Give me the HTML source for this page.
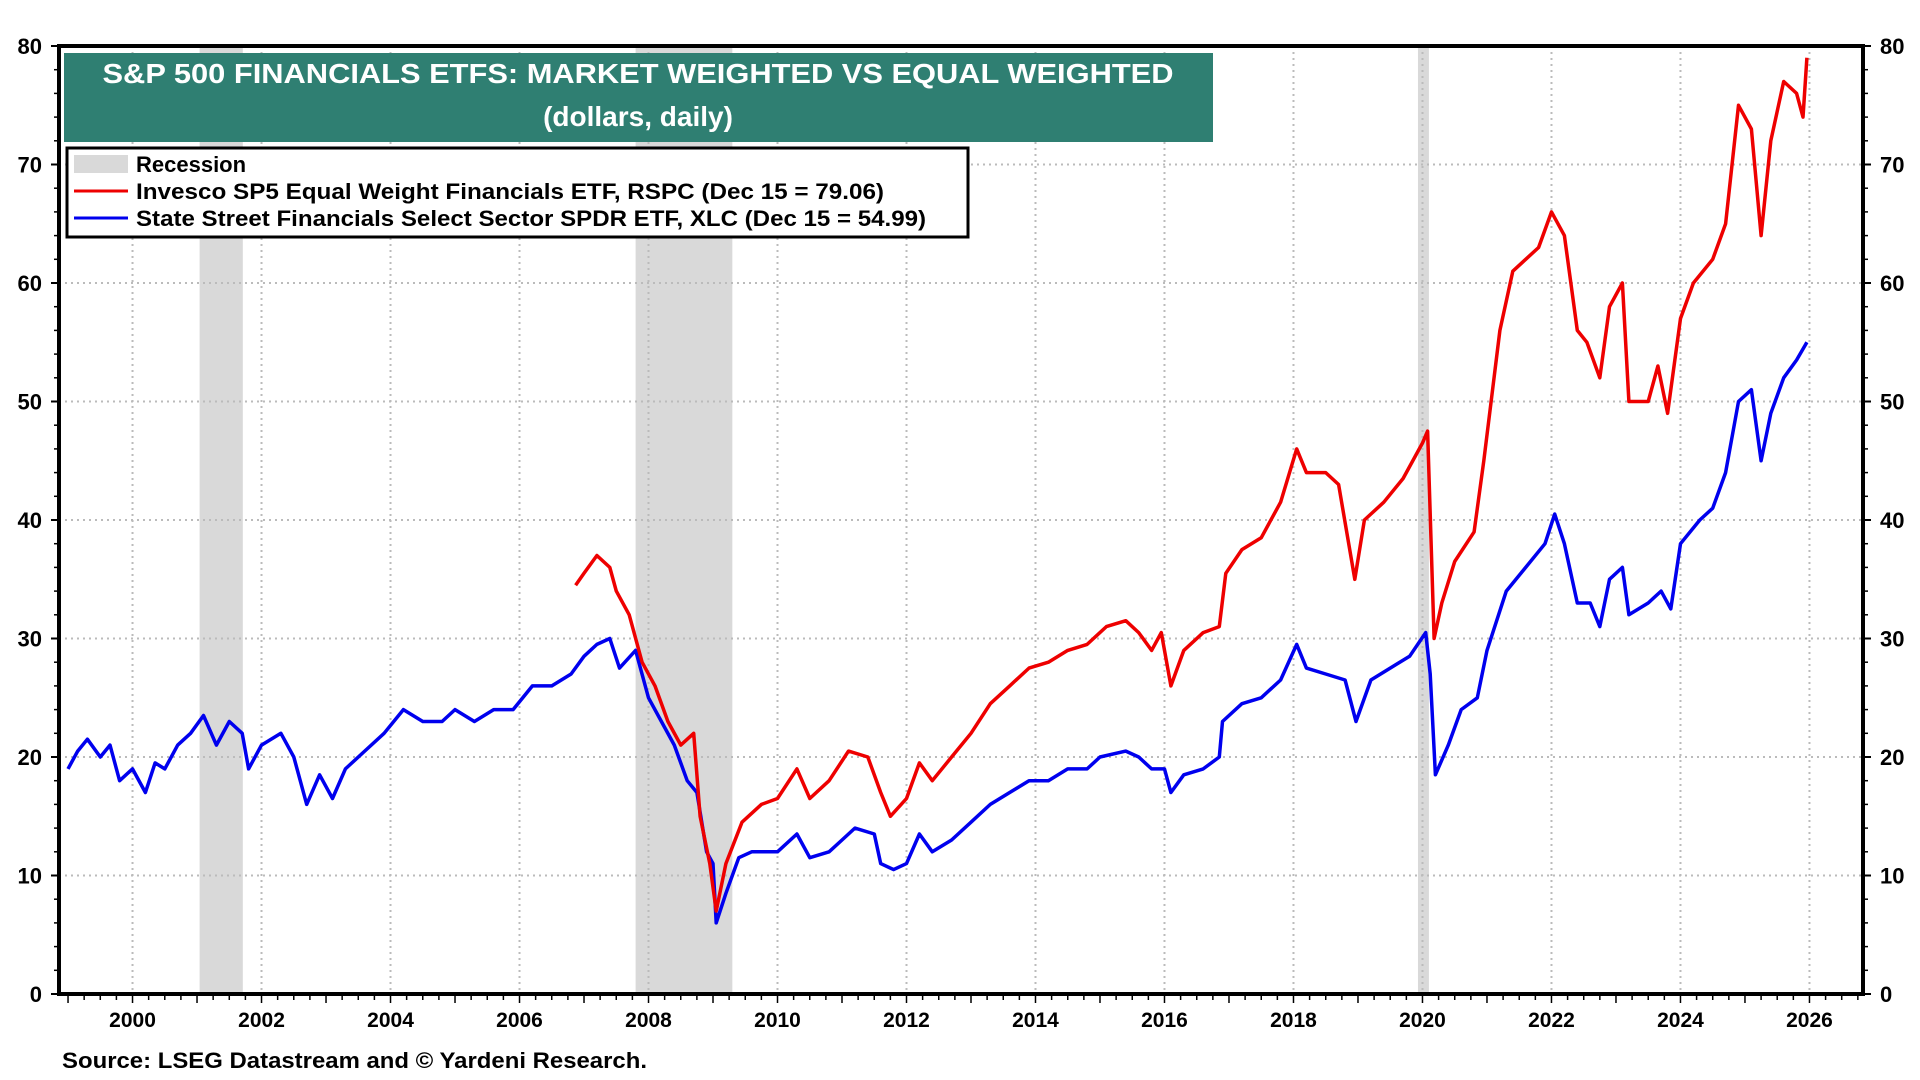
<!DOCTYPE html>
<html><head><meta charset="utf-8"><style>
html,body{margin:0;padding:0;background:#fff;}
svg{display:block;font-family:"Liberation Sans",Arial,sans-serif;font-weight:bold;}
</style></head><body>
<svg id="chart" width="1920" height="1080" viewBox="0 0 1920 1080"></svg>
<script>
const recessions=[[2001.04,2001.71],[2007.8,2009.3],[2019.93,2020.1]];
const yTicks=[0,10,20,30,40,50,60,70,80];
const xTicks=[2000,2002,2004,2006,2008,2010,2012,2014,2016,2018,2020,2022,2024,2026];
const blueYears=[1999.0,1999.15,1999.3,1999.5,1999.65,1999.8,2000.0,2000.2,2000.35,2000.5,2000.7,2000.9,2001.1,2001.3,2001.5,2001.7,2001.8,2002.0,2002.3,2002.5,2002.7,2002.9,2003.1,2003.3,2003.6,2003.9,2004.2,2004.5,2004.8,2005.0,2005.3,2005.6,2005.9,2006.2,2006.5,2006.8,2007.0,2007.2,2007.4,2007.55,2007.8,2008.0,2008.2,2008.4,2008.6,2008.75,2008.9,2009.0,2009.05,2009.2,2009.4,2009.6,2010.0,2010.3,2010.5,2010.8,2011.0,2011.2,2011.5,2011.6,2011.8,2012.0,2012.2,2012.4,2012.7,2013.0,2013.3,2013.6,2013.9,2014.2,2014.5,2014.8,2015.0,2015.4,2015.6,2015.8,2016.0,2016.1,2016.3,2016.6,2016.85,2016.9,2017.2,2017.5,2017.8,2018.05,2018.2,2018.5,2018.8,2018.97,2019.2,2019.5,2019.8,2020.05,2020.12,2020.2,2020.4,2020.6,2020.85,2021.0,2021.3,2021.6,2021.9,2022.05,2022.2,2022.4,2022.6,2022.75,2022.9,2023.1,2023.2,2023.5,2023.7,2023.85,2024.0,2024.3,2024.5,2024.7,2024.9,2025.1,2025.25,2025.4,2025.6,2025.8,2025.96];
const blueValues=[19,20.5,21.5,20,21,18,19,17,19.5,19,21,22,23.5,21,23,22,19,21,22,20,16,18.5,16.5,19,20.5,22,24,23,23,24,23,24,24,26,26,27,28.5,29.5,30,27.5,29,25,23,21,18,17,12,11,6,8.5,11.5,12,12,13.5,11.5,12,13,14,13.5,11,10.5,11,13.5,12,13,14.5,16,17,18,18,19,19,20,20.5,20,19,19,17,18.5,19,20,23,24.5,25,26.5,29.5,27.5,27,26.5,23,26.5,27.5,28.5,30.5,27,18.5,21,24,25,29,34,36,38,40.5,38,33,33,31,35,36,32,33,34,32.5,38,40,41,44,50,51,45,49,52,53.5,55];
const redYears=[2006.87,2007.0,2007.2,2007.4,2007.5,2007.7,2007.9,2008.1,2008.3,2008.5,2008.7,2008.8,2008.95,2009.05,2009.2,2009.45,2009.75,2010.0,2010.3,2010.5,2010.8,2011.1,2011.4,2011.6,2011.75,2012.0,2012.2,2012.4,2012.7,2013.0,2013.3,2013.6,2013.9,2014.2,2014.5,2014.8,2015.1,2015.4,2015.6,2015.8,2015.95,2016.1,2016.3,2016.6,2016.85,2016.95,2017.2,2017.5,2017.8,2018.05,2018.2,2018.5,2018.7,2018.95,2019.1,2019.4,2019.7,2020.0,2020.08,2020.18,2020.3,2020.5,2020.8,2020.95,2021.2,2021.4,2021.6,2021.8,2022.0,2022.2,2022.4,2022.55,2022.75,2022.9,2023.1,2023.2,2023.5,2023.65,2023.8,2024.0,2024.2,2024.5,2024.7,2024.9,2025.1,2025.25,2025.4,2025.6,2025.8,2025.9,2025.96];
const redValues=[34.5,35.5,37,36,34,32,28,26,23,21,22,15,11,7,11,14.5,16,16.5,19,16.5,18,20.5,20,17,15,16.5,19.5,18,20,22,24.5,26,27.5,28,29,29.5,31,31.5,30.5,29,30.5,26,29,30.5,31,35.5,37.5,38.5,41.5,46,44,44,43,35,40,41.5,43.5,46.5,47.5,30,33,36.5,39,45,56,61,62,63,66,64,56,55,52,58,60,50,50,53,49,57,60,62,65,75,73,64,72,77,76,74,79];

const L=59,R=1863,T=46,B=994;
const x0=1998.86,x1=2026.83;
const X=v=>L+(v-x0)/(x1-x0)*(R-L);
const Y=v=>B-v/80*(B-T);
const svg=document.getElementById('chart');
const NS='http://www.w3.org/2000/svg';
function mk(tag,attrs,parent){const e=document.createElementNS(NS,tag);for(const k in attrs)e.setAttribute(k,attrs[k]);(parent||svg).appendChild(e);return e;}

recessions.forEach(r=>{
  const e=mk('rect',{x:X(r[0]),y:T,width:X(r[1])-X(r[0]),height:B-T,fill:'#d9d9d9'});
  
  
});
yTicks.forEach(v=>{
  if(v>0&&v<80){const g=mk('line',{x1:L,x2:R,y1:Y(v),y2:Y(v),stroke:'#bbb','stroke-width':2,'stroke-dasharray':'2,4'});
  }
  const tl=mk('text',{x:42,y:Y(v)+8,'text-anchor':'end','font-size':22,fill:'#000'});tl.textContent=v;
  
  const tr=mk('text',{x:1880,y:Y(v)+8,'text-anchor':'start','font-size':22,fill:'#000'});tr.textContent=v;
  
  mk('line',{x1:L-8,x2:L,y1:Y(v),y2:Y(v),stroke:'#000','stroke-width':2});
  mk('line',{x1:R,x2:R+8,y1:Y(v),y2:Y(v),stroke:'#000','stroke-width':2});
});
for(let v=2;v<80;v+=2){if(v%10){mk('line',{x1:L-5,x2:L,y1:Y(v),y2:Y(v),stroke:'#000','stroke-width':1.5});mk('line',{x1:R,x2:R+5,y1:Y(v),y2:Y(v),stroke:'#000','stroke-width':1.5});}}
xTicks.forEach(v=>{
  const g=mk('line',{x1:X(v),x2:X(v),y1:T,y2:B,stroke:'#bbb','stroke-width':2,'stroke-dasharray':'2,4'});
  
  const t=mk('text',{x:X(v),y:1027,'text-anchor':'middle','font-size':21,fill:'#000'});t.textContent=v;
  
});
for(let v=1999;v<=2026.75;v+=0.25){mk('line',{x1:X(v),x2:X(v),y1:B,y2:B+(Number.isInteger(v)?9:6),stroke:'#000','stroke-width':1.5});}

function series(xs,ys,color,name){
  const d=xs.map((v,i)=>(i?'L':'M')+X(v).toFixed(1)+','+Y(ys[i]).toFixed(1)).join(' ');
  const p=mk('path',{d:d,fill:'none',stroke:color,'stroke-width':3.5,'stroke-linejoin':'round'});
  
  
}
series(blueYears,blueValues,'#0000ee','xlf-line');
series(redYears,redValues,'#ee0000','rspc-line');

const frame=mk('rect',{x:L,y:T,width:R-L,height:B-T,fill:'none',stroke:'#000','stroke-width':4});


</script>
<svg style="position:absolute;left:0;top:0" width="1920" height="1080">
<g>
<rect x="64" y="53" width="1149" height="89" fill="#2f7f72"/>
<text x="638" y="83" text-anchor="middle" font-size="28" fill="#fff" textLength="1071" lengthAdjust="spacingAndGlyphs">S&amp;P 500 FINANCIALS ETFS: MARKET WEIGHTED VS EQUAL WEIGHTED</text>
<text x="638" y="126" text-anchor="middle" font-size="28" fill="#fff">(dollars, daily)</text>
</g>
<g>
<rect x="67" y="148" width="901" height="89" fill="#fff" stroke="#000" stroke-width="3"/>
<rect x="74" y="155" width="54" height="18" fill="#d9d9d9"/>
<text x="136" y="172" font-size="22">Recession</text>
<line x1="74" x2="128" y1="191" y2="191" stroke="#ee0000" stroke-width="3"/>
<text x="136" y="199" font-size="22" textLength="748" lengthAdjust="spacingAndGlyphs">Invesco SP5 Equal Weight Financials ETF, RSPC (Dec 15 = 79.06)</text>
<line x1="74" x2="128" y1="218" y2="218" stroke="#0000ee" stroke-width="3"/>
<text x="136" y="226" font-size="22" textLength="790" lengthAdjust="spacingAndGlyphs">State Street Financials Select Sector SPDR ETF, XLC (Dec 15 = 54.99)</text>
</g>
<text x="62" y="1068" font-size="22" textLength="585" lengthAdjust="spacingAndGlyphs">Source: LSEG Datastream and © Yardeni Research.</text>
</svg>
</body></html>
